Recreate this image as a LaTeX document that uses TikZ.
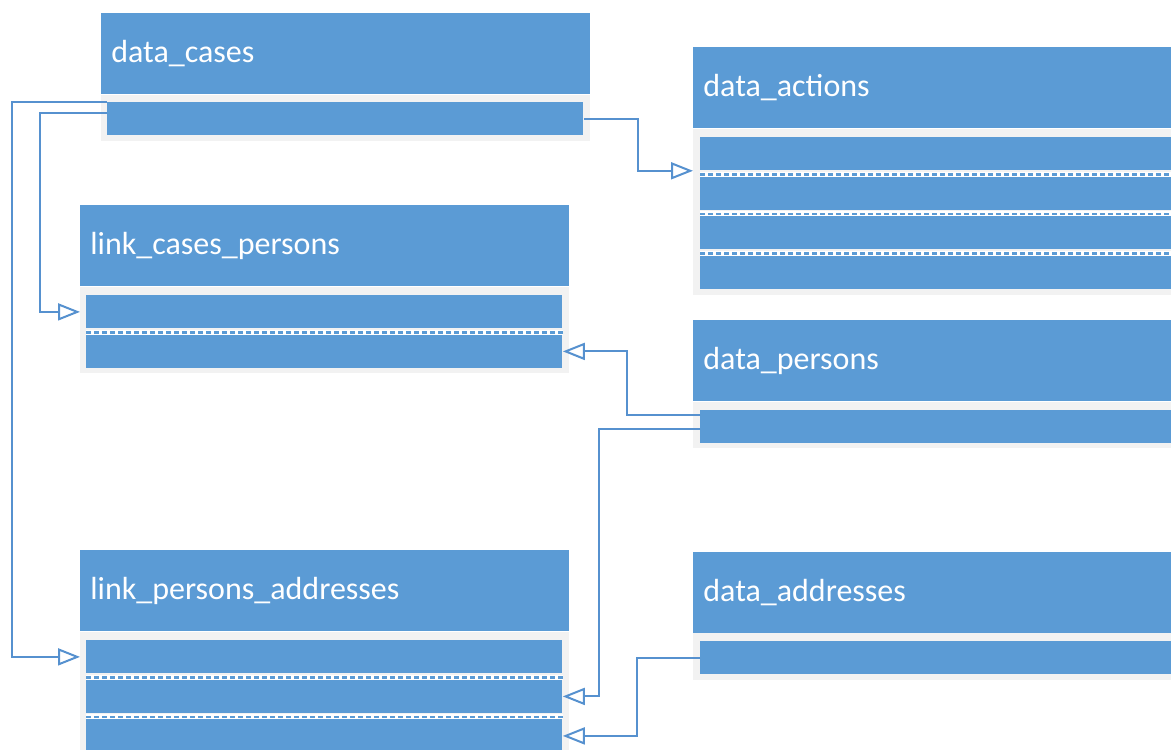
\documentclass[tikz,border=0pt]{standalone}
\usepackage{fontspec}
\setmainfont{Carlito}
\usetikzlibrary{arrows.meta}
\definecolor{tblue}{HTML}{5B9BD5}
\definecolor{tgray}{HTML}{F2F2F2}
\definecolor{tline}{HTML}{5691CF}

\begin{document}
\begin{tikzpicture}[x=0.5pt,y=-0.5pt,>={Triangle[open,length=11pt,width=8.5pt]},
  head/.style={fill=tblue,text=white,font=\fontsize{16}{19}\selectfont,anchor=north west,
    inner sep=0pt,inner xsep=5pt,minimum height=40.5pt,align=left},
  body/.style={fill=tgray,anchor=north west,inner sep=0pt},
  row/.style={fill=tblue,anchor=north west,inner sep=0pt,minimum height=16.5pt},
  sep/.style={draw=tblue,line width=1.2pt,dash pattern=on 2.5pt off 1.5pt,
    preaction={draw=white,solid,line width=2.5pt}},
  link/.style={draw=tline,line width=1pt,->}]
  \clip (0,0) rectangle (1171,749);
  % data_cases
  \node[head,text width=234.5pt] (hcases) at (101,13) {data\_cases};
  \node[body,minimum width=244.5pt,minimum height=23pt] (bcases) at (101,95) {};
  \node[row,minimum width=238pt] (rcases) at (107,102) {};
  % data_actions
  \node[head,text width=230pt] (hactions) at (693,47) {data\_actions};
  \node[body,minimum width=240pt,minimum height=83pt] (bactions) at (693,129) {};
  \foreach \i/\y in {1/137,2/176.5,3/216,4/255.5}
    \node[row,minimum width=236pt] (ract\i) at (700,\y) {};
  \foreach \i in {1,2,3}
    \draw[sep] ([yshift=-1.75pt]ract\i.south west) -- ([yshift=-1.75pt]ract\i.south east);
  % link_cases_persons
  \node[head,text width=234.5pt] (hlcp) at (80,205) {link\_cases\_persons};
  \node[body,minimum width=244.5pt,minimum height=43pt] (blcp) at (80,287) {};
  \node[row,minimum width=238pt] (lcp1) at (86,295) {};
  \node[row,minimum width=238pt] (lcp2) at (86,334.5) {};
  \draw[sep] ([yshift=-1.75pt]lcp1.south west) -- ([yshift=-1.75pt]lcp1.south east);
  % data_persons
  \node[head,text width=230pt] (hpersons) at (693,320) {data\_persons};
  \node[body,minimum width=240pt,minimum height=23pt] (bpersons) at (693,402) {};
  \node[row,minimum width=236pt] (rpersons) at (700,410) {};
  % link_persons_addresses
  \node[head,text width=234.5pt] (hlpa) at (80,550) {link\_persons\_addresses};
  \node[body,minimum width=244.5pt,minimum height=60pt] (blpa) at (80,632) {};
  \foreach \i/\y in {1/640,2/679.5,3/719}
    \node[row,minimum width=238pt] (lpa\i) at (86,\y) {};
  \foreach \i in {1,2}
    \draw[sep] ([yshift=-1.75pt]lpa\i.south west) -- ([yshift=-1.75pt]lpa\i.south east);
  % data_addresses
  \node[head,text width=230pt] (haddr) at (693,552) {data\_addresses};
  \node[body,minimum width=240pt,minimum height=23.5pt] (baddr) at (693,633) {};
  \node[row,minimum width=236pt] (raddr) at (700,641) {};
  % links
  \coordinate (c2) at (107,113);
  \coordinate (p1) at (700,415);
  \coordinate (p2) at (700,429);
  \draw[link] (rcases.north west) -- ++(-95,0) |- (blpa.west |- lpa1);
  \draw[link] (c2) -- ++(-67,0) |- (blcp.west |- lcp1);
  \draw[link] (rcases.east) -- ++(54,0) |- (bactions.west |- ract1.south);
  \draw[link] (p1) -- ++(-73,0) |- (lcp2.east);
  \draw[link] (p2) -- ++(-101,0) |- (lpa2.east);
  \draw[link] (raddr.west) -- ++(-63,0) |- (lpa3.east);
\end{tikzpicture}
\end{document}
